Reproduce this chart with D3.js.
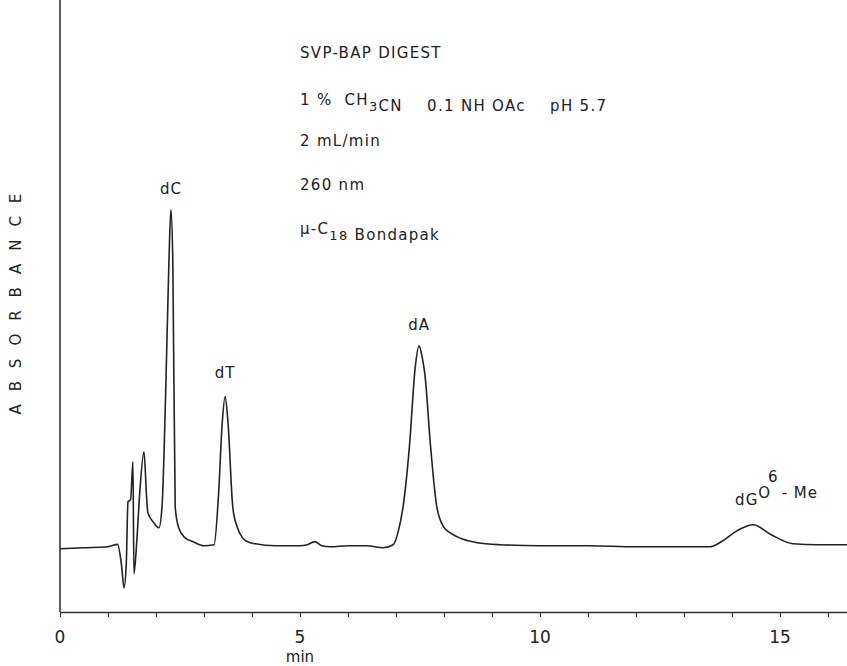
<!DOCTYPE html>
<html lang="en">
<head>
    <meta charset="UTF-8">
    <title>SVP-BAP Digest Chromatogram</title>
    <script src="https://d3js.org/d3.v7.min.js"></script>
    <style>
        body { margin: 0; background: #fff; }
        svg { display: block; }
        text { font-family: "DejaVu Sans", Arial, sans-serif; fill: #222; white-space: pre; }
        .cond { font-size: 15px; letter-spacing: 1.3px; }
        .peak { font-size: 15px; letter-spacing: 1px; }
        .tick-label { font-size: 17px; }
    </style>
</head>
<body>
<svg id="chart" width="847" height="666"></svg>
<script>
    // retention time (min) and absorbance (arbitrary units, baseline = 0)
    const times = [
        0.00, 0.50, 1.00, 1.20, 1.28, 1.333, 1.38, 1.417, 1.47, 1.52, 1.54, 1.60, 1.66, 1.75,
        1.80, 1.83, 1.95, 2.06, 2.125, 2.20, 2.27, 2.31, 2.35, 2.40, 2.47, 2.60, 2.77, 3.00,
        3.21, 3.30, 3.38, 3.44, 3.50, 3.60, 3.69, 3.80, 3.96, 4.50, 5.00, 5.15, 5.31, 5.45,
        5.63, 6.00, 6.40, 6.73, 6.94, 7.05, 7.15, 7.28, 7.40, 7.48, 7.55, 7.60, 7.72, 7.85,
        8.00, 8.13, 8.40, 8.69, 9.17, 10.0, 11.0, 12.0, 13.0, 13.54, 13.8, 14.1, 14.44,
        14.8, 15.27, 15.8, 16.4
    ];
    const absorbance = [
        -0.003, 0.000, 0.003, 0.010, -0.050, -0.118, -0.050, 0.136, 0.142, 0.254, -0.077,
        0.020, 0.160, 0.284, 0.160, 0.104, 0.075, 0.059, 0.120, 0.450, 0.850, 1.000, 0.850,
        0.121, 0.060, 0.030, 0.018, 0.006, 0.009, 0.150, 0.370, 0.447, 0.370, 0.120, 0.062,
        0.030, 0.015, 0.006, 0.006, 0.009, 0.018, 0.006, 0.003, 0.006, 0.006, 0.000, 0.009,
        0.050, 0.124, 0.300, 0.533, 0.597, 0.560, 0.515, 0.300, 0.121, 0.060, 0.044, 0.025,
        0.015, 0.009, 0.006, 0.006, 0.003, 0.003, 0.003, 0.020, 0.050, 0.068, 0.040, 0.012,
        0.009, 0.009
    ];
    const peakNames = ["dC", "dT", "dA"];
    const peakTimes = [2.31, 3.44, 7.48];
    const peakHeights = [1.000, 0.447, 0.597];
    const xTicks = [0, 5, 10, 15];
    // "_" marks a subscript
    const conditions = [
        "SVP-BAP DIGEST",
        "1 %  CH_3CN    0.1 NH OAc    pH 5.7",
        "2 mL/min",
        "260 nm",
        "μ-C_18 Bondapak"
    ];

    const width = 847, height = 666;
    const margin = { left: 60, right: 0, top: 0, bottom: 54 };

    const svg = d3.select("#chart");

    const x = d3.scaleLinear()
        .domain([0, (width - margin.left) / 48])
        .range([margin.left, width - margin.right]);

    const y = d3.scaleLinear()
        .domain([-0.19, 1.62])
        .range([height - margin.bottom, margin.top]);

    // x axis: major labels every 5 min, ticks every minute pointing down
    const xAxis = svg.append("g")
        .attr("transform", `translate(0,${height - margin.bottom})`)
        .call(d3.axisBottom(x).tickValues(d3.range(0, 17)).tickSize(5).tickSizeOuter(0).tickFormat(""));
    xAxis.select(".domain").attr("stroke", "#333").attr("stroke-width", 1.6);
    xAxis.selectAll(".tick line").attr("stroke", "#333").attr("stroke-width", 1.2);

    svg.append("g")
        .selectAll("text")
        .data(xTicks)
        .join("text")
        .attr("class", "tick-label")
        .attr("x", d => x(d))
        .attr("y", height - margin.bottom + 31)
        .attr("text-anchor", "middle")
        .text(d => d);

    svg.append("text")
        .attr("class", "tick-label")
        .attr("x", x(5))
        .attr("y", height - 4)
        .attr("text-anchor", "middle")
        .style("font-size", "15px")
        .text("min");

    // y axis: plain vertical line, no ticks
    svg.append("line")
        .attr("x1", margin.left).attr("x2", margin.left)
        .attr("y1", y(1.62)).attr("y2", y(-0.19))
        .attr("stroke", "#333")
        .attr("stroke-width", 1.6);

    svg.append("text")
        .attr("transform", `translate(21,${y(0.74)}) rotate(-90)`)
        .attr("text-anchor", "middle")
        .style("font-size", "15px")
        .style("letter-spacing", "13px")
        .text("ABSORBANCE");

    // the trace
    const line = d3.line()
        .x((d, i) => x(times[i]))
        .y(d => y(d))
        .curve(d3.curveMonotoneX);

    svg.append("path")
        .datum(absorbance)
        .attr("fill", "none")
        .attr("stroke", "#222")
        .attr("stroke-width", 1.6)
        .attr("stroke-linejoin", "round")
        .attr("d", line);

    // peak labels
    svg.append("g")
        .selectAll("text")
        .data(peakNames)
        .join("text")
        .attr("class", "peak")
        .attr("x", (d, i) => x(peakTimes[i]))
        .attr("y", (d, i) => y(peakHeights[i]) - (i === 1 ? 19 : 16))
        .attr("text-anchor", "middle")
        .text(d => d);

    const dg = svg.append("text")
        .attr("class", "peak")
        .attr("x", x(14.44) - 18)
        .attr("y", y(0.068) - 20);
    dg.append("tspan").text("dG");
    dg.append("tspan").attr("dy", -7).text("O");
    dg.append("tspan").attr("dy", -16).attr("dx", -3).text("6");
    dg.append("tspan").attr("dy", 16).attr("dx", 3).text("- Me");

    // run conditions, with subscripts split into tspans
    const cond = svg.append("g")
        .selectAll("text")
        .data(conditions)
        .join("text")
        .attr("class", "cond")
        .attr("x", 300)
        .attr("y", (d, i) => 58 + i * 44 + (i === 1 ? 3 : 0));

    cond.each(function(d) {
        const t = d3.select(this);
        d.split(/(_\d+)/).forEach(part => {
            if (part.startsWith("_")) {
                t.append("tspan").attr("dy", 6).style("font-size", "13px").text(part.slice(1));
                t.append("tspan").attr("dy", -6).text("");
            } else {
                t.append("tspan").text(part);
            }
        });
    });
</script>
</body>
</html>
